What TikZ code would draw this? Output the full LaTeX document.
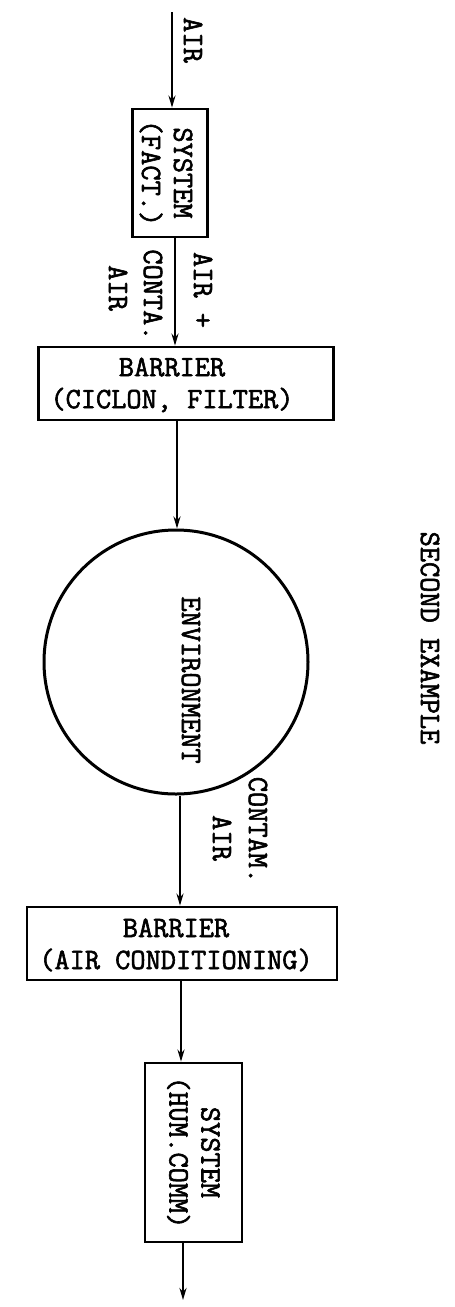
\documentclass[tikz,border=0pt]{standalone}
\usepackage{fontspec}
\setmonofont{Latin Modern Mono}[FakeBold=2]
\usetikzlibrary{arrows.meta}
\begin{document}
\begin{tikzpicture}[x=1pt,y=-1pt,
  box/.style={draw, line width=2.8pt, inner sep=0pt},
  lbl/.style={font=\ttfamily\fontsize{29.5}{32}\selectfont, inner sep=0pt, align=center},
  rlbl/.style={lbl, rotate=-90},
  flow/.style={line width=2.2pt, -{Stealth[length=12pt,width=7pt]}},
]
\useasboundingbox (0,0) rectangle (455,1307);

% top system
\node[box, minimum width=75, minimum height=128] (sys1) at (170,173) {};
\node[rlbl] (sys1t) at (166,173) {SYSTEM\\(FACT.)};
\coordinate (in1) at (172,12);
\draw[flow] (in1) -- (in1 |- sys1.north);
\node[rlbl] (lair1) at (193,40) {AIR};

% barrier 1
\node[box, minimum width=295, minimum height=73] (bar1) at (186,383.5) {};
\node[lbl] (bar1t) at (172,385) {BARRIER\\(CICLON, FILTER)};
\coordinate (a1) at (175,0);
\draw[flow] (a1 |- sys1.south) -- (a1 |- bar1.north);
\node[rlbl] (l2) at (203,290) {AIR +};
\node[rlbl] (l3) at (153,295) {CONTA.};
\node[rlbl] (l4) at (118,288) {AIR};

% environment
\node[draw, circle, line width=3pt, minimum size=264, inner sep=0pt] (env) at (176,662) {};
\node[rlbl] (envt) at (191,680) {ENVIRONMENT};
\coordinate (a2) at (177,0);
\draw[flow] (a2 |- bar1.south) -- (a2 |- env.north);

% title
\node[rlbl] (title) at (430,638) {SECOND EXAMPLE};

% barrier 2
\node[box, minimum width=310, minimum height=73] (bar2) at (182,943.5) {};
\node[lbl] (bar2t) at (176,945) {BARRIER\\(AIR CONDITIONING)};
\coordinate (a3) at (180,0);
\draw[flow] (a3 |- env.south) -- (a3 |- bar2.north);
\node[rlbl] (l5) at (222,838) {AIR};
\node[rlbl] (l6) at (258,830) {CONTAM.};

% system 2
\node[box, minimum width=97, minimum height=179] (sys2) at (193.5,1152.5) {};
\node[rlbl] (sys2t) at (sys2.center) {SYSTEM\\(HUM.COMM)};
\coordinate (a4) at (181,0);
\draw[flow] (a4 |- bar2.south) -- (a4 |- sys2.north);
\coordinate (a5) at (183,1300);
\draw[flow] (a5 |- sys2.south) -- (a5);
\end{tikzpicture}
\end{document}
